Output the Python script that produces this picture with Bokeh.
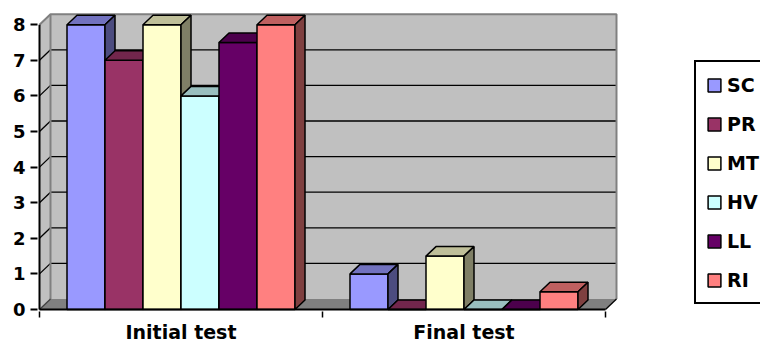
import numpy as np
from bokeh.plotting import figure
from bokeh.models import Range1d, FixedTicker, LinearAxis, Legend, LegendItem
from bokeh.embed import file_html
from bokeh.resources import INLINE

# ---- data ----
categories = ["Initial test", "Final test"]
series_names = ["SC", "PR", "MT", "HV", "LL", "RI"]
sc = [8, 1]
pr = [7, 0]
mt = [8, 1.5]
hv = [6, 0]
ll = [7.5, 0]
ri = [8, 0.5]
y_ticks = [0, 1, 2, 3, 4, 5, 6, 7, 8]
y_max = 8

series_values = [sc, pr, mt, hv, ll, ri]
colors = ["#9999FF", "#993366", "#FFFFCC", "#CCFFFF", "#660066", "#FF8080"]

# ---- geometry (pixels per data unit and the 3D depth offsets) ----
PX_X = 283.0          # pixels per category
PX_Y = 35.6           # pixels per value unit
BAR_W = 38 / PX_X
GROUP_PAD = 27.5 / PX_X
BAR_DX, BAR_DY = 10 / PX_X, 9.5 / PX_Y
WALL_DX, WALL_DY = 11 / PX_X, 10.5 / PX_Y
N_CAT = len(categories)

FONT = "DejaVu Sans"


def shade(hex_color, f):
    r, g, b = (int(hex_color[i:i + 2], 16) for i in (1, 3, 5))
    return "#%02x%02x%02x" % (int(r * f), int(g * f), int(b * f))


# the frame runs to the right edge so the legend can sit inside it
p = figure(
    width=760, height=345,
    x_range=Range1d(-2 / PX_X, 721 / PX_X),
    y_range=Range1d(-2 / PX_Y, 299 / PX_Y),
    x_axis_type=None, y_axis_type=None,
    min_border_left=37, min_border_right=0,
    min_border_top=10, min_border_bottom=34,
    output_backend="svg", toolbar_location=None,
    outline_line_color=None,
    background_fill_color="white", border_fill_color="white",
)

# ---- walls and floor ----
wall_fill = "#C0C0C0"
edge_gray = "#808080"
p.quad(left=WALL_DX, right=N_CAT + WALL_DX, bottom=WALL_DY, top=y_max + WALL_DY,
       fill_color=wall_fill, line_color=None)
p.patch([0, WALL_DX, WALL_DX, 0], [0, WALL_DY, y_max + WALL_DY, y_max],
        fill_color=wall_fill, line_color=None)
p.patch([0, N_CAT, N_CAT + WALL_DX, WALL_DX], [0, 0, WALL_DY, WALL_DY],
        fill_color=edge_gray, line_color=None)

grid_vals = np.array([v for v in y_ticks if 0 < v < y_max], dtype=float)
p.segment(x0=WALL_DX, y0=grid_vals + WALL_DY, x1=N_CAT + WALL_DX, y1=grid_vals + WALL_DY,
          line_color="black", line_width=1.3)
p.segment(x0=0, y0=grid_vals, x1=WALL_DX, y1=grid_vals + WALL_DY,
          line_color="black", line_width=1.3)

# wall outline
p.line([0, WALL_DX, N_CAT + WALL_DX, N_CAT + WALL_DX],
       [y_max, y_max + WALL_DY, y_max + WALL_DY, WALL_DY],
       line_color=edge_gray, line_width=2)
p.line([WALL_DX, WALL_DX], [WALL_DY, y_max + WALL_DY], line_color=edge_gray, line_width=2)
p.line([0, WALL_DX], [0, WALL_DY], line_color="#404040", line_width=1.3)
p.line([N_CAT, N_CAT + WALL_DX], [0, WALL_DY], line_color="black", line_width=1.3)

# ---- 3D bars ----
legend_items = []
for i, (name, vals, col) in enumerate(zip(series_names, series_values, colors)):
    vals = np.asarray(vals, dtype=float)
    left = np.arange(N_CAT) + GROUP_PAD + i * BAR_W
    right = left + BAR_W
    front = p.quad(left=left, right=right, bottom=0, top=vals,
                   fill_color=col, line_color="black", line_width=1.5)
    top_xs = [[l, r, r + BAR_DX, l + BAR_DX] for l, r in zip(left, right)]
    top_ys = [[v, v, v + BAR_DY, v + BAR_DY] for v in vals]
    p.patches(top_xs, top_ys, fill_color=shade(col, 0.75), line_color="black", line_width=1.5)
    side_xs = [[r, r + BAR_DX, r + BAR_DX, r] for r in right]
    side_ys = [[0, BAR_DY, v + BAR_DY, v] for v in vals]
    p.patches(side_xs, side_ys, fill_color=shade(col, 0.5), line_color="black", line_width=1.5)
    legend_items.append(LegendItem(label=name, renderers=[front]))

# ---- axis lines ----
p.line([0, 0], [0, y_max], line_color="black", line_width=2)
p.line([0, N_CAT], [0, 0], line_color="black", line_width=2)

yaxis = LinearAxis(
    ticker=FixedTicker(ticks=y_ticks, minor_ticks=[]),
    axis_line_color=None,
    major_tick_in=0, major_tick_out=7,
    major_tick_line_color="black", major_tick_line_width=2,
    minor_tick_line_color=None,
    major_label_standoff=5,
    major_label_text_font=FONT, major_label_text_font_style="bold",
    major_label_text_font_size="18px", major_label_text_color="black",
)
p.add_layout(yaxis, "left")

centers = [c + 0.5 for c in range(N_CAT)]
xaxis = LinearAxis(
    ticker=FixedTicker(ticks=centers, minor_ticks=list(range(N_CAT + 1))),
    major_label_overrides={c: lab for c, lab in zip(centers, categories)},
    axis_line_color=None,
    major_tick_line_color=None, major_tick_in=0, major_tick_out=0,
    minor_tick_in=0, minor_tick_out=6,
    minor_tick_line_color="black", minor_tick_line_width=1.5,
    major_label_standoff=3,
    major_label_text_font=FONT, major_label_text_font_style="bold",
    major_label_text_font_size="19px", major_label_text_color="black",
)
p.add_layout(xaxis, "below")

# legend: bottom-left corner given in pixels from the frame's bottom-left
legend = Legend(
    items=legend_items,
    location=(657, 7),
    orientation="vertical",
    border_line_color="black", border_line_width=2, border_line_alpha=1,
    background_fill_color="white", background_fill_alpha=1,
    padding=10, margin=0, spacing=14,
    glyph_width=16, glyph_height=16, label_height=25, label_width=90,
    label_standoff=5,
    label_text_font=FONT, label_text_font_style="bold",
    label_text_font_size="19px", label_text_color="black",
)
p.add_layout(legend, "center")

open("out.html", "w").write(file_html(p, INLINE))
